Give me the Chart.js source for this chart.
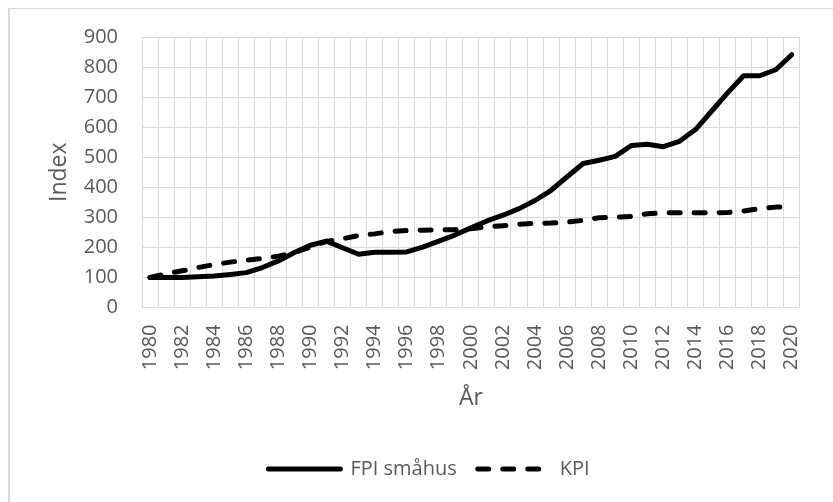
<!DOCTYPE html>
<html lang="sv">
<head>
<meta charset="utf-8">
<title>FPI småhus och KPI</title>
<script src="https://cdn.jsdelivr.net/npm/chart.js@4.4.1/dist/chart.umd.min.js"></script>
<style>
    html, body { margin: 0; padding: 0; background: #fff; overflow: hidden; }
    .wrap { position: relative; width: 833px; height: 502px; }
    /* ramen runt diagrammet, bara vänster + topp syns i bilden */
    .frame { position: absolute; left: 8px; top: 8px; width: 900px; height: 600px;
             border-top: 1px solid #d9d9d9; border-left: 2px solid #d9d9d9; }
    canvas { position: absolute; left: 0; top: 0; }
</style>
</head>
<body>
<div class="wrap">
    <div class="frame"></div>
    <canvas id="chart" width="833" height="502"></canvas>
</div>
<script>
// --- data ---
const years = ["1980","1981","1982","1983","1984","1985","1986","1987","1988","1989",
               "1990","1991","1992","1993","1994","1995","1996","1997","1998","1999",
               "2000","2001","2002","2003","2004","2005","2006","2007","2008","2009",
               "2010","2011","2012","2013","2014","2015","2016","2017","2018","2019","2020"];

const fpiSmahus = [100, 100, 100, 102, 105, 110, 116, 133, 155, 183,
                   207, 221, 199, 177, 184, 184, 185, 201, 221, 241,
                   265, 288, 307, 329, 356, 390, 435, 479, 490, 503,
                   539, 543, 535, 553, 592, 653, 714, 771, 771, 791, 841];

const kpi = [100, 112, 122, 133, 143, 151, 157, 163, 171, 183,
             201, 220, 229, 239, 245, 253, 256, 257, 258, 259,
             262, 268, 272, 277, 280, 281, 284, 290, 299, 300,
             303, 312, 315, 315, 315, 315, 316, 321, 329, 334, 336];

const yMin = 0, yMax = 900, yStep = 100;

// --- utseende ---
Chart.defaults.font.family = "'Open Sans', 'DejaVu Sans', sans-serif";
Chart.defaults.color = '#595959';

const gridColor = '#d9d9d9';

// legenden: fast höjd och lite förskjuten åt höger (centrerad under ritytan)
const legendLayout = {
    id: 'legendLayout',
    beforeInit(chart) {
        const fit = chart.legend.fit;
        chart.legend.fit = function () {
            fit.bind(chart.legend)();
            this.height = 64;
        };
    },
    afterLayout(chart) {
        chart.legend.left += 23;
        chart.legend.right += 23;
    }
};

const ctx = document.getElementById('chart').getContext('2d');

new Chart(ctx, {
    type: 'line',
    data: {
        labels: years,
        datasets: [
            {
                label: 'FPI småhus',
                data: fpiSmahus,
                borderColor: '#000',
                backgroundColor: '#000',
                borderWidth: 5,
                borderCapStyle: 'round',
                borderJoinStyle: 'round',
                pointRadius: 0,
                tension: 0,
                fill: false
            },
            {
                label: 'KPI',
                data: kpi,
                borderColor: '#000',
                backgroundColor: '#000',
                borderWidth: 5,
                borderDash: [11, 14],
                borderCapStyle: 'round',
                borderJoinStyle: 'round',
                pointRadius: 0,
                tension: 0,
                fill: false
            }
        ]
    },
    options: {
        responsive: false,
        animation: false,
        layout: { padding: { top: 37, right: 21, left: 0, bottom: 0 } },
        plugins: {
            legend: {
                display: true,
                position: 'bottom',
                labels: {
                    usePointStyle: true,
                    pointStyle: 'line',
                    pointStyleWidth: 72,
                    padding: 21,
                    font: { size: 20 },
                    color: '#595959',
                    generateLabels(chart) {
                        const items = Chart.defaults.plugins.legend.labels.generateLabels(chart);
                        items.forEach((item, i) => {
                            const ds = chart.data.datasets[i];
                            item.lineDash = ds.borderDash || [];
                            item.lineWidth = ds.borderWidth;
                            item.lineCap = 'round';
                            item.strokeStyle = ds.borderColor;
                            item.pointStyle = 'line';
                        });
                        return items;
                    }
                }
            },
            tooltip: { enabled: false }
        },
        scales: {
            x: {
                offset: true,
                grid: { offset: true, color: gridColor, drawTicks: false },
                border: { color: gridColor },
                ticks: {
                    autoSkip: false,
                    minRotation: 90,
                    maxRotation: 90,
                    padding: 17,
                    font: { size: 20 },
                    // bara vartannat år skrivs ut
                    callback: function (value, index) {
                        return index % 2 === 0 ? this.getLabelForValue(value) : '';
                    }
                },
                title: {
                    display: true,
                    text: 'År',
                    font: { size: 23 },
                    padding: { top: 0, bottom: 26 }
                },
                afterFit(scale) { scale.height = 130.5; }
            },
            y: {
                min: yMin,
                max: yMax,
                grid: { color: gridColor, drawTicks: false },
                border: { color: gridColor },
                ticks: { stepSize: yStep, padding: 24, font: { size: 20 } },
                title: {
                    display: true,
                    text: 'Index',
                    font: { size: 23 },
                    padding: { top: 46, bottom: 0 }
                },
                afterFit(scale) { scale.width = 142; }
            }
        }
    },
    plugins: [legendLayout]
});
</script>
</body>
</html>
